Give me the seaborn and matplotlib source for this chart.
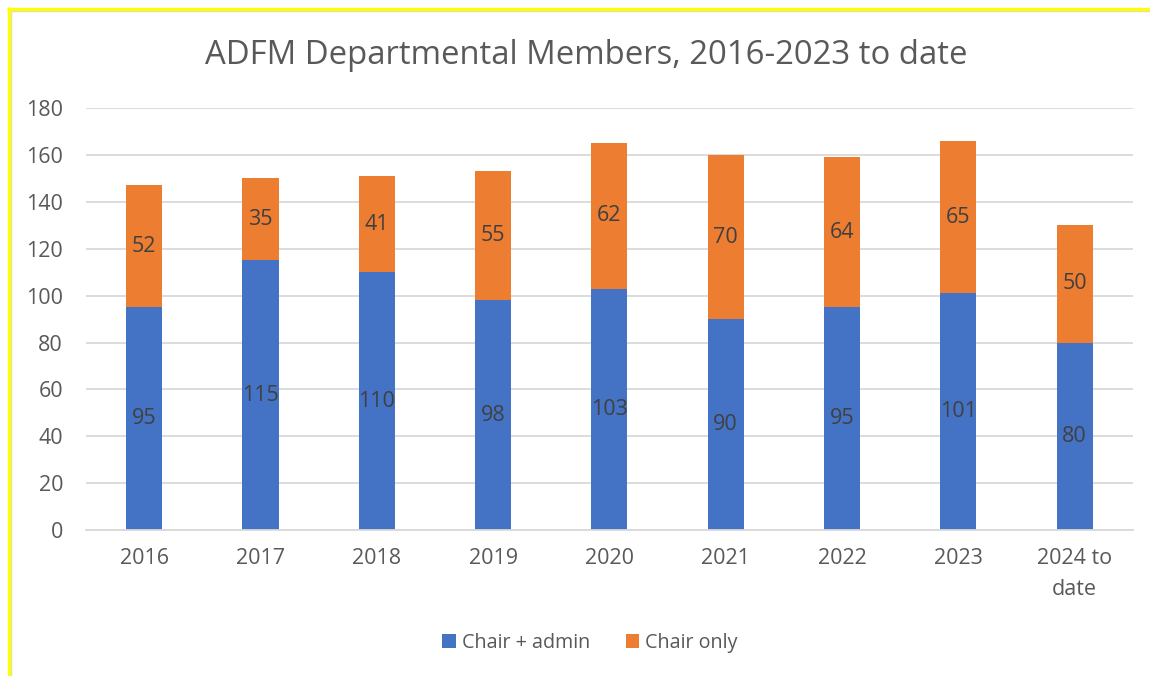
import matplotlib
matplotlib.use("Agg")
import matplotlib.pyplot as plt
import seaborn as sns
import pandas as pd
from matplotlib.patches import Patch
from matplotlib.lines import Line2D

categories = ["2016", "2017", "2018", "2019", "2020", "2021", "2022", "2023", "2024 to\ndate"]
chair_admin = [95, 115, 110, 98, 103, 90, 95, 101, 80]
chair_only = [52, 35, 41, 55, 62, 70, 64, 65, 50]
series_names = ["Chair + admin", "Chair only"]
title = "ADFM Departmental Members, 2016-2023 to date"

BLUE = "#4472C4"
ORANGE = "#ED7D31"
TXT = "#595959"
LBL = "#404040"

sns.set_theme(style="white")
plt.rcParams["font.family"] = ["Open Sans", "DejaVu Sans"]

totals = [a + b for a, b in zip(chair_admin, chair_only)]
df = pd.DataFrame({"cat": categories, "admin": chair_admin, "only": chair_only, "total": totals})

fig = plt.figure(figsize=(11.5, 6.76), dpi=100)
ax = fig.add_axes([0.0748, 0.216, 0.9102, 0.624])

sns.barplot(data=df, x="cat", y="total", color=ORANGE, width=0.31, ax=ax, saturation=1, linewidth=0)
sns.barplot(data=df, x="cat", y="admin", color=BLUE, width=0.31, ax=ax, saturation=1, linewidth=0)

for i, (a, b) in enumerate(zip(chair_admin, chair_only)):
    ax.text(i, a / 2, str(a), ha="center", va="center", fontsize=15.5, color=LBL)
    ax.text(i, a + b / 2, str(b), ha="center", va="center", fontsize=15.5, color=LBL)

ax.set_ylim(0, 180)
ax.set_yticks(range(0, 181, 20))
ax.set_xlim(-0.5, len(categories) - 0.5)
ax.yaxis.grid(True, color="#D9D9D9", linewidth=1.3)
ax.set_axisbelow(True)
for s in ["top", "right", "left"]:
    ax.spines[s].set_visible(False)
ax.spines["bottom"].set_color("#D9D9D9")
ax.spines["bottom"].set_linewidth(1.3)
ax.set_xlabel("")
ax.set_ylabel("")
ax.tick_params(axis="both", length=0, labelsize=15.5, labelcolor=TXT)
ax.tick_params(axis="x", pad=13)
ax.tick_params(axis="y", pad=16.5)
for t in ax.get_xticklabels():
    t.set_linespacing(1.6)
for t in ax.get_yticklabels():
    t.set_horizontalalignment("right")

fig.text(586 / 1150, 1 - 56 / 676, title, ha="center", va="center", fontsize=23.7, color=TXT)

handles = [Patch(facecolor=BLUE, edgecolor="none"), Patch(facecolor=ORANGE, edgecolor="none")]
fig.legend(handles, series_names, loc="center", bbox_to_anchor=(0.513, 1 - 643 / 676), ncol=2,
           frameon=False, fontsize=14.2, labelcolor=TXT, handlelength=0.7, handleheight=0.7,
           handletextpad=0.3, columnspacing=1.8)

# chart border (yellow selection frame and grey chart outline)
W, H = 1150, 676
fig.add_artist(Line2D([8.5 / W, 8.5 / W], [0, (H - 7) / H], transform=fig.transFigure,
                      color="#FFFF00", linewidth=2.4, solid_capstyle="butt", zorder=10))
fig.add_artist(Line2D([7 / W, 1], [(H - 8.5) / H, (H - 8.5) / H], transform=fig.transFigure,
                      color="#FFFF00", linewidth=2.4, solid_capstyle="butt", zorder=10))
fig.add_artist(Line2D([11 / W, 11 / W], [0, (H - 11) / H], transform=fig.transFigure,
                      color="#D9D9D9", linewidth=1, solid_capstyle="butt"))
fig.add_artist(Line2D([11 / W, 1], [(H - 11) / H, (H - 11) / H], transform=fig.transFigure,
                      color="#D9D9D9", linewidth=1, solid_capstyle="butt"))

fig.savefig("out.png", dpi=100, facecolor="white")
